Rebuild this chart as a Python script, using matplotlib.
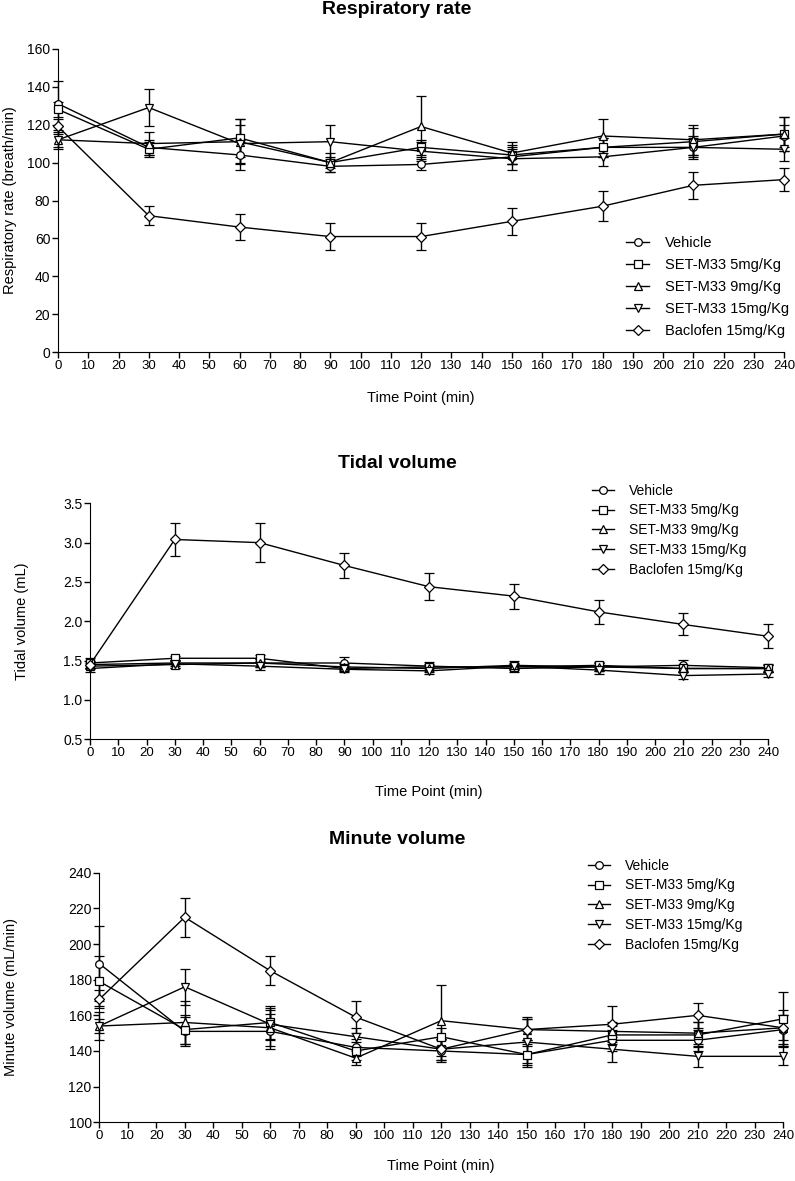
import matplotlib
matplotlib.use("Agg")
import matplotlib.pyplot as plt
import numpy as np

plt.rcParams['font.family'] = ['Liberation Sans', 'DejaVu Sans']

time_points = [0, 30, 60, 90, 120, 150, 180, 210, 240]
groups = ["Vehicle", "SET-M33 5mg/Kg", "SET-M33 9mg/Kg", "SET-M33 15mg/Kg", "Baclofen 15mg/Kg"]
markers = ["o", "s", "^", "v", "D"]

# respiratory rate (breath/min)
rr_mean = [
    [131, 108, 104, 98, 99, 103, 108, 108, 114],
    [128, 107, 113, 100, 108, 104, 108, 111, 115],
    [112, 110, 111, 100, 119, 105, 114, 112, 115],
    [112, 129, 110, 111, 106, 102, 103, 108, 107],
    [119, 72, 66, 61, 61, 69, 77, 88, 91],
]
rr_err = [
    [12, 4, 8, 3, 3, 4, 5, 5, 6],
    [4, 4, 10, 3, 4, 5, 5, 7, 9],
    [4, 6, 12, 5, 16, 6, 9, 8, 9],
    [5, 10, 10, 9, 5, 6, 5, 6, 6],
    [4, 5, 7, 7, 7, 7, 8, 7, 6],
]

# tidal volume (mL)
tv_mean = [
    [1.45, 1.47, 1.47, 1.47, 1.43, 1.40, 1.42, 1.44, 1.41],
    [1.47, 1.53, 1.53, 1.40, 1.42, 1.42, 1.44, 1.40, 1.40],
    [1.43, 1.45, 1.47, 1.42, 1.40, 1.44, 1.42, 1.40, 1.40],
    [1.40, 1.46, 1.43, 1.39, 1.37, 1.43, 1.38, 1.31, 1.33],
    [1.45, 3.04, 3.00, 2.71, 2.44, 2.32, 2.12, 1.96, 1.81],
]
tv_err = [
    [0.05, 0.04, 0.05, 0.08, 0.05, 0.05, 0.05, 0.07, 0.05],
    [0.06, 0.03, 0.04, 0.03, 0.04, 0.04, 0.04, 0.04, 0.04],
    [0.04, 0.04, 0.05, 0.04, 0.04, 0.05, 0.05, 0.05, 0.05],
    [0.05, 0.05, 0.05, 0.04, 0.04, 0.04, 0.05, 0.04, 0.04],
    [0.05, 0.21, 0.25, 0.16, 0.17, 0.16, 0.15, 0.14, 0.15],
]

# minute volume (mL/min)
mv_mean = [
    [189, 151, 151, 142, 140, 138, 146, 146, 152],
    [179, 152, 156, 140, 148, 138, 149, 149, 158],
    [154, 156, 153, 136, 157, 152, 151, 150, 153],
    [154, 176, 155, 148, 141, 145, 141, 137, 137],
    [169, 215, 185, 159, 141, 152, 155, 160, 153],
]
mv_err = [
    [21, 8, 10, 5, 6, 6, 6, 6, 8],
    [14, 8, 9, 5, 5, 5, 5, 7, 15],
    [4, 12, 10, 4, 20, 6, 5, 6, 10],
    [8, 10, 9, 5, 6, 14, 7, 6, 5],
    [5, 11, 8, 9, 6, 6, 10, 7, 7],
]

W = 795.0
H = 1181.0


def draw_panel(ax, means, errs, ylim, yticks, ylabel, ylabel_x, title, title_y,
               xlabel_y, legend_xy, legend_sp, legend_fs):
    handles = []
    for g in range(len(groups)):
        ms = 5.5 if markers[g] != "D" else 5
        h = ax.errorbar(time_points, means[g], yerr=errs[g], color="black", lw=1.0,
                        marker=markers[g], markersize=ms, markerfacecolor="white",
                        markeredgecolor="black", markeredgewidth=0.9,
                        elinewidth=1.0, capsize=3.5, capthick=1.0, label=groups[g],
                        clip_on=False, zorder=3)
        handles.append(h)
    ax.set_xlim(0, 240)
    ax.set_ylim(*ylim)
    ax.set_xticks(np.arange(0, 241, 10))
    ax.set_yticks(yticks)
    ax.spines["top"].set_visible(False)
    ax.spines["right"].set_visible(False)
    ax.tick_params(direction="out", length=4, width=1.0, pad=1.5)
    ax.tick_params(axis="x", labelsize=9.5)
    ax.tick_params(axis="y", labelsize=10)
    pos = ax.get_position()
    fig.text(ylabel_x / W, 0.5 * (pos.y0 + pos.y1), ylabel, rotation=90,
             ha="center", va="center", fontsize=10.5)
    fig.text(397 / W, title_y, title, ha="center", va="center",
             fontsize=14, fontweight="bold")
    fig.text(0.5 * (pos.x0 + pos.x1), xlabel_y, "Time Point (min)",
             ha="center", va="center", fontsize=10.5)
    ax.legend(handles=[h[0] for h in handles], labels=groups, loc="upper left",
              bbox_to_anchor=legend_xy, bbox_transform=fig.transFigure,
              frameon=False, fontsize=legend_fs, handlelength=1.6, handletextpad=1.1,
              labelspacing=legend_sp, borderaxespad=0)


fig = plt.figure(figsize=(7.95, 11.81), dpi=100)

ax1 = fig.add_axes([58 / W, 1 - 352.3 / H, 726 / W, 303.6 / H])
draw_panel(ax1, rr_mean, rr_err, (0, 160), np.arange(0, 161, 20),
           "Respiratory rate (breath/min)", 10, "Respiratory rate",
           1 - 10 / H, 1 - 398 / H, (620 / W, 1 - 230 / H), 0.55, 10.5)

ax2 = fig.add_axes([90 / W, 1 - 739.3 / H, 678 / W, 236 / H])
draw_panel(ax2, tv_mean, tv_err, (0.5, 3.5), np.arange(0.5, 3.51, 0.5),
           "Tidal volume (mL)", 22, "Tidal volume",
           1 - 463 / H, 1 - 792 / H, (586 / W, 1 - 478 / H), 0.42, 10)
ax2.yaxis.set_major_formatter(matplotlib.ticker.FormatStrFormatter("%.1f"))

ax3 = fig.add_axes([99.3 / W, 1 - 1122.3 / H, 683.7 / W, 249.6 / H])
draw_panel(ax3, mv_mean, mv_err, (100, 240), np.arange(100, 241, 20),
           "Minute volume (mL/min)", 11, "Minute volume",
           1 - 840 / H, 1 - 1166 / H, (582 / W, 1 - 853 / H), 0.42, 10)

fig.savefig("out.png", dpi=100)
